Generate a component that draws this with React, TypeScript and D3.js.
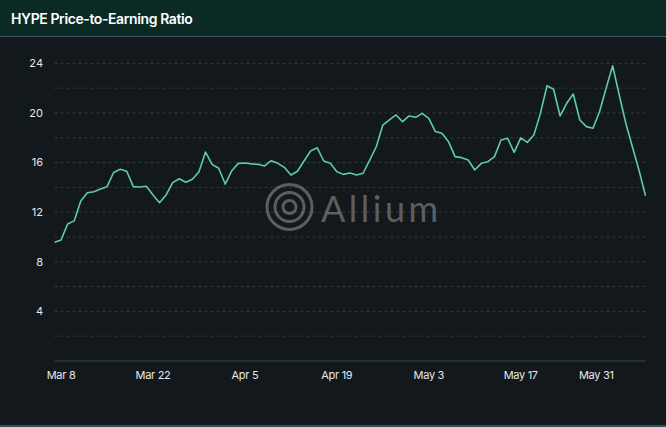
import * as d3 from "d3";

// daily P/E ratio, Mar 7 – Jun 5
const START_DATE = new Date(2025, 2, 7);
const PE_VALUES: number[] = [
  9.57, 9.76, 11.05, 11.3, 12.9, 13.57, 13.65, 13.87, 14.06, 15.2,
  15.46, 15.3, 14.06, 14.03, 14.09, 13.39, 12.77, 13.39, 14.38, 14.7,
  14.41, 14.65, 15.27, 16.85, 15.86, 15.54, 14.27, 15.35, 15.94, 15.97,
  15.9, 15.86, 15.73, 16.15, 15.94, 15.62, 15.0, 15.3, 16.13, 16.94,
  17.2, 16.13, 15.94, 15.27, 15.05, 15.16, 15.0, 15.14, 16.2, 17.28,
  19.03, 19.44, 19.84, 19.3, 19.76, 19.65, 19.97, 19.57, 18.5, 18.36,
  17.69, 16.48, 16.4, 16.21, 15.4, 15.94, 16.07, 16.48, 17.82, 17.96,
  16.83, 18.0, 17.63, 18.23, 19.97, 22.2, 21.91, 19.76, 20.78, 21.53,
  19.44, 18.9, 18.77, 20.1, 22.0, 23.81, 21.45, 19.17, 17.28, 15.4,
  13.33,
];
const X_TICKS = ["2025-03-08", "2025-03-22", "2025-04-05", "2025-04-19", "2025-05-03", "2025-05-17", "2025-05-31"];
const Y_TICKS = [4, 8, 12, 16, 20, 24];
const GRID_VALUES = [2, 4, 6, 8, 10, 12, 14, 16, 18, 20, 22, 24];

const W = 666;
const H = 427;
const FONT = "Inter, 'Noto Sans', sans-serif";

export default function App() {
  const data = PE_VALUES.map((v, i) => ({ date: d3.timeDay.offset(START_DATE, i), value: v }));

  const x = d3
    .scaleTime()
    .domain([data[0].date, data[data.length - 1].date])
    .range([54.5, 645.5]);
  const y = d3.scaleLinear().domain([0, 24]).range([361, 63.4]);

  const line = d3
    .line<{ date: Date; value: number }>()
    .x((d) => x(d.date))
    .y((d) => y(d.value));

  const parse = d3.timeParse("%Y-%m-%d");
  const fmt = d3.timeFormat("%b %-d");

  return (
    <div style={{ position: "fixed", left: 0, top: 0 }}>
      <svg width={W} height={H} style={{ display: "block" }}>
        <rect width={W} height={H} fill="#12181c" />
        {/* header */}
        <rect width={W} height={36} fill="#0b2a24" />
        <line x1={0} x2={W} y1={36.5} y2={36.5} stroke="#3d5a66" strokeWidth={1} />
        <text x={11} y={23.5} fill="#ffffff" fontFamily={FONT} fontSize={14} fontWeight={600} letterSpacing={-0.4}>
          HYPE Price-to-Earning Ratio
        </text>
        <line x1={0} x2={W} y1={426} y2={426} stroke="#2f5058" strokeWidth={2} />

        {/* grid */}
        {GRID_VALUES.map((v) => (
          <line
            key={v}
            x1={54.5}
            x2={645.5}
            y1={y(v)}
            y2={y(v)}
            stroke="#323a40"
            strokeWidth={1}
            strokeDasharray="3,3"
          />
        ))}
        <line x1={54.5} x2={645.5} y1={y(0)} y2={y(0)} stroke="#34464c" strokeWidth={1} />

        {/* y labels */}
        {Y_TICKS.map((v) => (
          <text
            key={v}
            x={43}
            y={y(v)}
            dy="0.35em"
            textAnchor="end"
            fill="#e6e8ea"
            fontFamily={FONT}
            fontSize={11}
          >
            {v}
          </text>
        ))}

        {/* x labels */}
        {X_TICKS.map((s, i) => {
          const d = parse(s)!;
          const last = i === X_TICKS.length - 1;
          return (
            <text
              key={s}
              x={last ? x(d) + 1 : x(d)}
              y={375}
              dy="0.35em"
              textAnchor={last ? "end" : "middle"}
              fill="#e6e8ea"
              fontFamily={FONT}
              fontSize={11}
              letterSpacing={-0.3}
            >
              {fmt(d)}
            </text>
          );
        })}

        {/* watermark */}
        <g opacity={0.5} stroke="#a0a4a8" fill="none" strokeWidth={3}>
          <circle cx={289.5} cy={207} r={22.5} />
          <circle cx={289.5} cy={207} r={14.5} />
          <circle cx={289.5} cy={207} r={6.5} />
        </g>
        <text
          x={321}
          y={221.5}
          fill="#a0a4a8"
          opacity={0.5}
          fontFamily="Lato, 'Noto Sans', sans-serif"
          fontSize={36}
          fontWeight={400}
          letterSpacing={3.5}
        >
          Allium
        </text>

        {/* series */}
        <path d={line(data) ?? ""} fill="none" stroke="#5fcca3" strokeWidth={1.6} strokeLinejoin="round" />
      </svg>
    </div>
  );
}
